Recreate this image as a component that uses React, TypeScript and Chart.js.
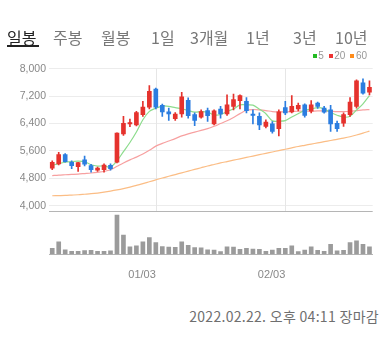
import React, { useEffect, useRef } from 'react';
import { Chart, registerables } from 'chart.js';

Chart.register(...registerables);

// ---- data ----
const dates = [
  '12/09', '12/10', '12/13', '12/14', '12/15', '12/16', '12/17', '12/20', '12/21', '12/22',
  '12/23', '12/24', '12/27', '12/28', '12/29', '12/30', '01/03', '01/04', '01/05', '01/06',
  '01/07', '01/10', '01/11', '01/12', '01/13', '01/14', '01/17', '01/18', '01/19', '01/20',
  '01/21', '01/24', '01/25', '01/26', '01/27', '01/28', '02/03', '02/04', '02/07', '02/08',
  '02/09', '02/10', '02/11', '02/14', '02/15', '02/16', '02/17', '02/18', '02/21', '02/22',
];
const opens = [
  5100, 5220, 5490, 5270, 5140, 5340, 5170, 5040, 5050, 5180,
  5270, 6100, 6390, 6360, 6660, 6880, 7410, 6930, 6740, 6540,
  6680, 7080, 6660, 6590, 6780, 6390, 6820, 6680, 6900, 7070,
  7050, 6680, 6610, 6320, 6390, 6250, 6870, 6740, 6830, 6950,
  6760, 7000, 6850, 6800, 6410, 6410, 6660, 6900, 7590, 7320,
];
const highs = [
  5310, 5560, 5520, 5310, 5270, 5450, 5210, 5130, 5220, 5220,
  6130, 6610, 6530, 6760, 7050, 7510, 7440, 6970, 6850, 6720,
  7310, 7150, 6710, 6800, 6850, 6800, 6900, 7240, 7260, 7240,
  7160, 6800, 6710, 6510, 6460, 6800, 7050, 7220, 7000, 6980,
  7070, 7030, 6900, 6930, 6470, 6710, 7160, 7680, 7710, 7650,
];
const lows = [
  5050, 5190, 5270, 5080, 5000, 5160, 4980, 5000, 4980, 5040,
  5250, 6050, 6310, 6330, 6610, 6830, 6830, 6610, 6490, 6490,
  6590, 6560, 6340, 6560, 6460, 6360, 6560, 6640, 6800, 6830,
  6710, 6390, 6220, 6270, 6120, 6040, 6660, 6710, 6770, 6590,
  6710, 6840, 6700, 6170, 6170, 6320, 6610, 6850, 7260, 7240,
];
const closes = [
  5270, 5490, 5290, 5170, 5260, 5210, 5050, 5100, 5190, 5080,
  6120, 6410, 6430, 6720, 6880, 7340, 6880, 6740, 6680, 6680,
  7180, 6630, 6490, 6750, 6630, 6770, 6680, 6950, 7100, 7220,
  6780, 6640, 6360, 6440, 6170, 6740, 6710, 6900, 6930, 6640,
  6950, 6900, 6730, 6390, 6250, 6660, 7030, 7650, 7290, 7460,
];
const volumes = [
  180, 370, 130, 90, 85, 110, 115, 85, 85, 100,
  1170, 570, 220, 250, 370, 500, 350, 230, 215, 210,
  370, 270, 200, 190, 130, 125, 80, 220, 215, 150,
  180, 155, 150, 85, 125, 180, 180, 250, 80, 125,
  220, 120, 85, 300, 100, 120, 350, 400, 300, 220,
];
const ma5 = [
  5180, 5230, 5270, 5290, 5300, 5284, 5196, 5158, 5162, 5126,
  5308, 5580, 5846, 6152, 6512, 6756, 6850, 6912, 6904, 6864,
  6832, 6782, 6732, 6746, 6736, 6654, 6664, 6756, 6826, 6944,
  6946, 6938, 6820, 6688, 6478, 6470, 6484, 6592, 6690, 6784,
  6826, 6864, 6830, 6722, 6644, 6586, 6612, 6796, 6976, 7218,
];
const ma20 = [
  4880, 4895, 4905, 4915, 4925, 4940, 4955, 4975, 5000, 5050,
  5150, 5250, 5340, 5420, 5510, 5620, 5740, 5820, 5890, 5960,
  6040, 6100, 6150, 6200, 6250, 6320, 6400, 6480, 6580, 6690,
  6790, 6810, 6800, 6780, 6750, 6740, 6740, 6750, 6760, 6760,
  6760, 6770, 6770, 6760, 6750, 6750, 6760, 6780, 6800, 6810,
];
const ma60 = [
  4290, 4295, 4300, 4310, 4320, 4335, 4350, 4370, 4395, 4425,
  4460, 4500, 4545, 4595, 4645, 4700, 4755, 4810, 4860, 4910,
  4960, 5010, 5060, 5110, 5160, 5205, 5250, 5290, 5330, 5370,
  5410, 5450, 5490, 5530, 5570, 5610, 5650, 5690, 5730, 5765,
  5800, 5835, 5870, 5905, 5940, 5975, 6015, 6065, 6120, 6180,
];
const priceTicks = [4000, 4800, 5600, 6400, 7200, 8000];
const shownDates = ['01/03', '02/03'];
const tabs = ['일봉', '주봉', '월봉', '1일', '3개월', '1년', '3년', '10년'];
const tabX = [7, 53, 101, 151, 190, 246, 293, 335];
const legendItems = [
  { label: '5', color: '#22bb22' },
  { label: '20', color: '#ee3333' },
  { label: '60', color: '#ff8c1a' },
];
const stamp = '2022.02.22. 오후 04:11 장마감';

// ---- styles ----
const UP = '#e5322d';
const DOWN = '#2b7de0';
const PRICE_MIN = 2580;
const PRICE_MAX = 8000;
const PANEL_SPLIT = 3850;
const VOL_MAX = 5520;

const candleColors = closes.map((c, i) => (c >= opens[i] ? UP : DOWN));

const panelPlugin = {
  id: 'panelPlugin',
  beforeDatasetsDraw(chart: any) {
    const { ctx, chartArea, scales } = chart;
    const x = scales.x;
    const y = scales.y;
    const split = Math.round(y.getPixelForValue(PANEL_SPLIT)) + 0.5;
    ctx.save();
    ctx.lineWidth = 1;
    ctx.strokeStyle = '#e6e6e6';
    dates.forEach((d, i) => {
      if (shownDates.includes(d)) {
        const px = Math.round(x.getPixelForValue(i)) + 0.5;
        ctx.beginPath();
        ctx.moveTo(px, chartArea.top);
        ctx.lineTo(px, split);
        ctx.stroke();
      }
    });
    ctx.strokeStyle = '#b5b5b5';
    ctx.beginPath();
    ctx.moveTo(chartArea.left, split);
    ctx.lineTo(chartArea.right, split);
    ctx.stroke();
    ctx.restore();
  },
};

export default function App() {
  const ref = useRef<HTMLCanvasElement>(null);

  useEffect(() => {
    if (!ref.current) return;
    const chart = new Chart(ref.current, {
      type: 'bar',
      data: {
        labels: dates,
        datasets: [
          {
            type: 'line',
            data: ma60,
            yAxisID: 'y',
            borderColor: '#fbbd85',
            borderWidth: 1.2,
            pointRadius: 0,
            tension: 0.3,
            order: 10,
          } as any,
          {
            type: 'line',
            data: ma20,
            yAxisID: 'y',
            borderColor: '#f7a0a0',
            borderWidth: 1.2,
            pointRadius: 0,
            tension: 0.3,
            order: 9,
          } as any,
          {
            type: 'line',
            data: ma5,
            yAxisID: 'y',
            borderColor: '#8ddc8d',
            borderWidth: 1.2,
            pointRadius: 0,
            tension: 0.3,
            order: 8,
          } as any,
          {
            type: 'bar',
            data: volumes,
            yAxisID: 'yVol',
            backgroundColor: '#9b9b9b',
            barThickness: 4,
            grouped: false,
            order: 3,
          } as any,
          {
            type: 'bar',
            data: lows.map((l, i) => [l, highs[i]]),
            yAxisID: 'y',
            backgroundColor: candleColors,
            barThickness: 1,
            grouped: false,
            order: 2,
          } as any,
          {
            type: 'bar',
            data: opens.map((o, i) => [o, closes[i]]),
            yAxisID: 'y',
            backgroundColor: candleColors,
            barThickness: 4,
            minBarLength: 1,
            grouped: false,
            order: 1,
          } as any,
        ],
      },
      options: {
        responsive: false,
        animation: false,
        layout: { padding: { top: 68.8, right: 15.3, left: 0, bottom: 0 } },
        plugins: {
          legend: { display: false },
          tooltip: { enabled: false },
        },
        scales: {
          x: {
            type: 'category',
            offset: true,
            grid: { display: false, drawTicks: false },
            border: { display: true, color: '#b5b5b5' },
            ticks: {
              autoSkip: false,
              maxRotation: 0,
              minRotation: 0,
              align: 'end',
              padding: 14,
              color: '#888',
              font: { family: 'Liberation Sans, Arial, sans-serif', size: 11 },
              callback: (v: any, i: number) => (shownDates.includes(dates[i]) ? dates[i] : ''),
            },
            afterFit: (s: any) => {
              s.height = 45.7;
            },
          },
          y: {
            type: 'linear',
            position: 'left',
            min: PRICE_MIN,
            max: PRICE_MAX,
            grid: { color: '#ececec', drawTicks: false },
            border: { display: false },
            ticks: {
              padding: 3,
              color: '#888',
              font: { family: 'Liberation Sans, Arial, sans-serif', size: 10.5 },
              callback: (v: any) => Number(v).toLocaleString('en-US'),
            },
            afterBuildTicks: (s: any) => {
              s.ticks = priceTicks.map((v) => ({ value: v }));
            },
            afterFit: (s: any) => {
              s.width = 49;
            },
          },
          yVol: {
            type: 'linear',
            position: 'left',
            display: false,
            min: 0,
            max: VOL_MAX,
          },
        },
      } as any,
      plugins: [panelPlugin],
    });
    return () => chart.destroy();
  }, []);

  return (
    <div
      style={{
        position: 'absolute',
        left: 0,
        top: 0,
        width: 388,
        height: 361,
        background: '#fff',
        overflow: 'hidden',
        fontFamily: "'Noto Sans CJK KR', 'Noto Sans', sans-serif",
      }}
    >
      <canvas
        ref={ref}
        width={388}
        height={300}
        style={{ position: 'absolute', left: 0, top: 0, width: 388, height: 300 }}
      />
      {tabs.map((t, i) => (
        <div
          key={t}
          style={{
            position: 'absolute',
            left: tabX[i],
            top: 29,
            fontSize: 16,
            lineHeight: '17px',
            color: i === 0 ? '#222' : '#777',
            whiteSpace: 'nowrap',
          }}
        >
          {t}
        </div>
      ))}
      <div
        style={{ position: 'absolute', left: 7, top: 45, width: 31.5, height: 1.5, background: '#222' }}
      />
      <div
        style={{
          position: 'absolute',
          right: 21,
          top: 50,
          display: 'flex',
          alignItems: 'center',
          fontFamily: 'Liberation Sans, Arial, sans-serif',
          fontSize: 10,
          lineHeight: '12px',
          color: '#999',
        }}
      >
        {legendItems.map((it) => (
          <span key={it.label} style={{ display: 'inline-flex', alignItems: 'center', marginLeft: 5 }}>
            <span style={{ display: 'inline-block', width: 4, height: 4, background: it.color, marginRight: 1.5 }} />
            {it.label}
          </span>
        ))}
      </div>
      <div
        style={{
          position: 'absolute',
          right: 9,
          top: 308,
          fontSize: 14,
          letterSpacing: 0.3,
          lineHeight: '17px',
          color: '#6f6f6f',
          whiteSpace: 'nowrap',
        }}
      >
        {stamp}
      </div>
    </div>
  );
}
